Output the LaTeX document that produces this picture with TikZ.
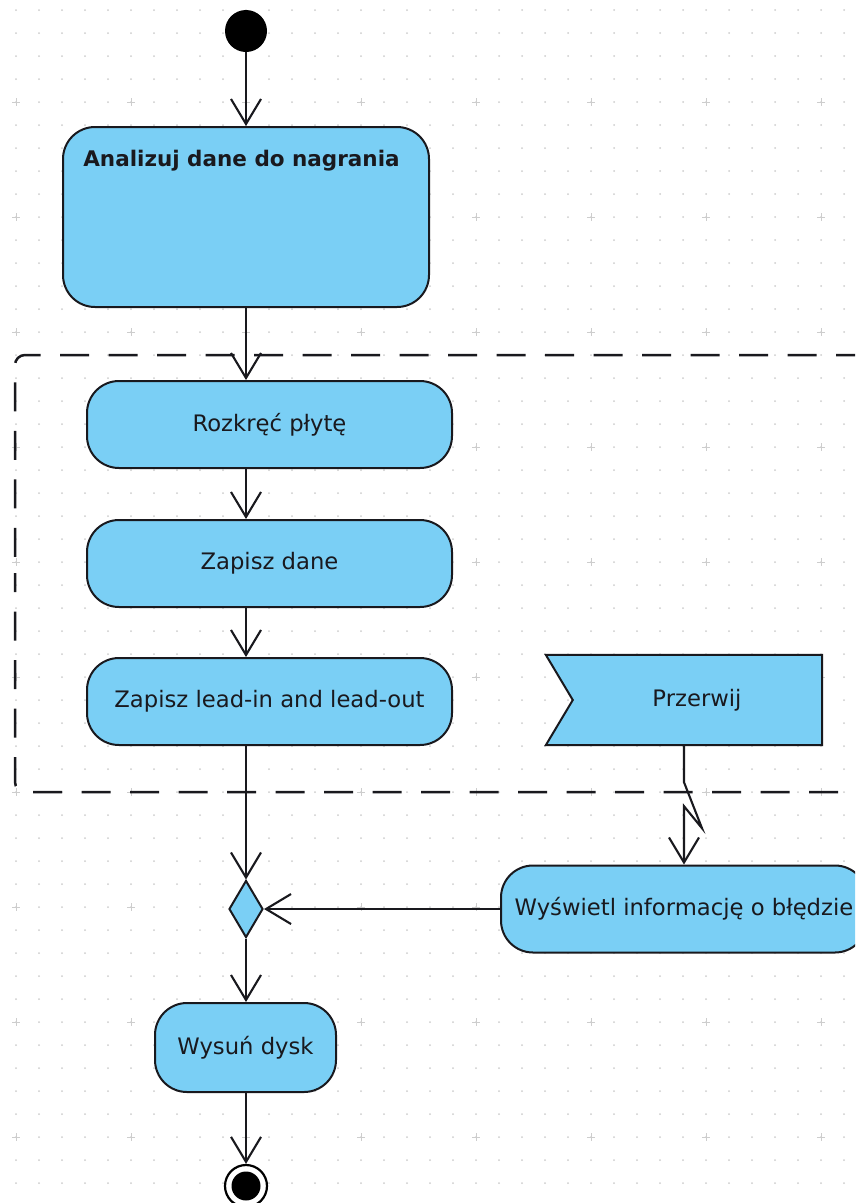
\documentclass[tikz,border=0pt]{standalone}
\usepackage{fontspec}
\setmainfont{DejaVu Sans}
\usetikzlibrary{arrows.meta,shapes.geometric,calc}
\definecolor{actfill}{RGB}{122,207,245}
\definecolor{inkcol}{RGB}{25,25,30}
\definecolor{dotcol}{RGB}{205,205,205}
\begin{document}
\begin{tikzpicture}[x=1pt,y=-1pt,
  actfont/.style={font=\fontsize{22.7}{27}\selectfont},
  act/.style={draw=inkcol, line width=2pt, fill=actfill, rounded corners=32pt,
    minimum width=365pt, minimum height=87pt, inner sep=0pt, actfont, text=inkcol},
  bigact/.style={act, rounded corners=32pt, minimum width=366pt, minimum height=180pt},
  flow/.style={draw=inkcol, line width=2.1pt, -{Straight Barb[length=25pt,width=30pt]}},
  region/.style={draw=inkcol, line width=2.5pt, rounded corners=10pt, dash pattern=on 29pt off 19.5pt},
  startnode/.style={circle, fill=black, minimum size=42pt, inner sep=0pt},
  endnode/.style={circle, draw=black, line width=2.2pt, fill=white, minimum size=42pt, inner sep=0pt},
  decisionnode/.style={diamond, draw=inkcol, line width=2pt, fill=actfill, inner sep=0pt,
    minimum width=34pt, minimum height=57pt},
  signalbox/.style={minimum width=276pt, minimum height=90pt, inner sep=0pt},
  signalshape/.style={draw=inkcol, line width=2pt, fill=actfill}
]
\useasboundingbox (0,0) rectangle (855,1203);
\clip (0,0) rectangle (855,1203);
\fill[white] (0,0) rectangle (855,1203);

% dotted drawing grid with a cross every fifth step
\foreach \i in {0,...,36}
  \foreach \j in {0,...,52}
    \fill[dotcol] (16+23*\i, 10+23*\j) circle (1pt);
\foreach \i in {0,...,7}
  \foreach \j in {0,...,9}
    \draw[dotcol, line width=1pt] (16+115*\i-4, 102+115*\j) -- ++(8,0)
      (16+115*\i, 102+115*\j-4) -- ++(0,8);

% interruptible region
\draw[region, dash phase=32.3pt] (15,573) -- (15,355) -- (900,355);
\draw[region, dash phase=9.8pt] (15,573) -- (15,792) -- (900,792);

% nodes
\node[startnode] (start) at (246,31) {};
\node[bigact] (analiz) at (246,217) {};
\node[anchor=base, font=\bfseries\fontsize{21.5}{26}\selectfont, text=inkcol] (analiztxt)
  at (241.5,166) {Analizuj dane do nagrania};
\node[act] (rozkrec) at (269.5,424.5) {Rozkręć płytę};
\node[act] (zapisz) at (269.5,563.5) {Zapisz dane};
\node[act] (leadin) at (269.5,701.5) {Zapisz lead-in and lead-out};

\node[signalbox] (przerwij) at (684,700) {};
\draw[signalshape] (przerwij.north west) -- (przerwij.north east) -- (przerwij.south east)
  -- (przerwij.south west) -- ($(przerwij.west)+(27,0)$) -- cycle;
\node[actfont, text=inkcol] (przerwijtxt) at ($(przerwij.center)+(13,0)$) {Przerwij};

\node[act, minimum width=366pt] (wyswietl) at (684,909) {Wyświetl informację o błędzie};
\node[decisionnode] (decision) at (246,909) {};
\node[act, minimum width=181pt, minimum height=89pt] (wysun) at (245.5,1047.5) {Wysuń dysk};
\node[endnode] (end) at (246,1186) {};
\fill[black] (end.center) circle (14.5pt);

% control flows
\draw[flow] (start) -- (analiz.north);
\draw[flow] (analiz.south) -- (analiz.south |- rozkrec.north);
\draw[flow] (analiz.south |- rozkrec.south) -- (analiz.south |- zapisz.north);
\draw[flow] (analiz.south |- zapisz.south) -- (analiz.south |- leadin.north);
\draw[flow] (decision.north |- leadin.south) -- (decision.north);
\draw[flow] (przerwij.south) -- ++(0,37) -- ++(18,46) -- ++(-18,-22) -- (wyswietl.north);
\draw[flow] (wyswietl.west) -- (decision.east);
\draw[flow] (decision.south) -- (decision.south |- wysun.north);
\draw[flow] (decision.south |- wysun.south) -- (end.north);
\end{tikzpicture}
\end{document}
